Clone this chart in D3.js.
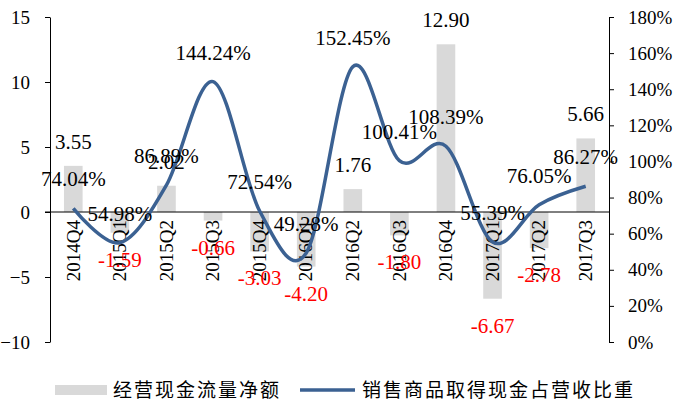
<!DOCTYPE html>
<html>
<head>
<meta charset="utf-8">
<script src="https://cdn.jsdelivr.net/npm/d3@7"></script>
<style>
  body { margin: 0; background: #fff; }
  .domain, .tick line { stroke: #000; }
</style>
</head>
<body>
<script>
// data
var categories = ["2014Q4", "2015Q1", "2015Q2", "2015Q3", "2015Q4", "2016Q1",
                  "2016Q2", "2016Q3", "2016Q4", "2017Q1", "2017Q2", "2017Q3"];
var cashFlow = [3.55, -1.59, 2.02, -0.66, -3.03, -4.20, 1.76, -1.80, 12.90, -6.67, -2.78, 5.66];
var salesRatio = [74.04, 54.98, 86.89, 144.24, 72.54, 49.28, 152.45, 100.41, 108.39, 55.39, 76.05, 86.27];
var leftTicks = [-10, -5, 0, 5, 10, 15];
var rightTicks = [0, 20, 40, 60, 80, 100, 120, 140, 160, 180];
var legendNames = ["经营现金流量净额", "销售商品取得现金占营收比重"];

var serif = "'Liberation Serif', 'Times New Roman', serif";

var W = 676, H = 403;
var margin = {top: 17, right: 67, bottom: 61, left: 50},
    width = W - margin.left - margin.right,
    height = H - margin.top - margin.bottom;

var svg = d3.select("body").append("svg")
    .attr("width", W)
    .attr("height", H);

var g = svg.append("g")
    .attr("transform", "translate(" + margin.left + "," + margin.top + ")");

// scales
var x = d3.scaleBand().domain(categories).range([0, width]).padding(0);
var y = d3.scaleLinear().domain([-10, 15]).range([height, 0]);
var y2 = d3.scaleLinear().domain([0, 180]).range([height, 0]);
var barW = x.bandwidth() * 0.4;

// bars
g.selectAll(".bar")
    .data(cashFlow)
    .enter().append("rect")
    .attr("class", "bar")
    .attr("x", function(d, i) { return x(categories[i]) + (x.bandwidth() - barW) / 2; })
    .attr("y", function(d) { return y(Math.max(0, d)); })
    .attr("width", barW)
    .attr("height", function(d) { return Math.abs(y(d) - y(0)); })
    .attr("fill", "#d9d9d9");

function styleTicks(s) {
    s.attr("font-family", null);
    s.selectAll("text")
        .style("font-family", serif)
        .style("font-size", "19px")
        .attr("fill", "#000");
}

// left axis
g.append("g")
    .call(d3.axisLeft(y).tickValues(leftTicks).tickSize(5).tickPadding(15).tickSizeOuter(0))
    .call(styleTicks);

// right axis
g.append("g")
    .attr("transform", "translate(" + width + ",0)")
    .call(d3.axisRight(y2).tickValues(rightTicks).tickSize(5).tickPadding(14).tickSizeOuter(0)
        .tickFormat(function(d) { return d + "%"; }))
    .call(styleTicks);

// zero line with category labels
var xAxis = g.append("g")
    .attr("transform", "translate(0," + y(0) + ")")
    .call(d3.axisBottom(x).tickSize(0).tickSizeOuter(0))
    .call(styleTicks);
xAxis.select(".domain").attr("d", "M-5,0H" + width);
xAxis.selectAll("text")
    .style("text-anchor", "end")
    .attr("transform", "rotate(-90)")
    .attr("x", -8)
    .attr("y", 0)
    .attr("dy", "0.33em");

// line
var line = d3.line()
    .x(function(d, i) { return x(categories[i]) + x.bandwidth() / 2; })
    .y(function(d) { return y2(d); })
    .curve(d3.curveCatmullRom.alpha(0));

g.append("path")
    .datum(salesRatio)
    .attr("fill", "none")
    .attr("stroke", "#3b6192")
    .attr("stroke-width", 3.5)
    .attr("d", line);

// bar labels
g.selectAll(".barlabel")
    .data(cashFlow)
    .enter().append("text")
    .attr("class", "barlabel")
    .attr("x", function(d, i) { return x(categories[i]) + x.bandwidth() / 2; })
    .attr("y", function(d) { return d >= 0 ? y(d) - 17 : y(d) + 34; })
    .attr("text-anchor", "middle")
    .style("font-family", serif)
    .style("font-size", "21px")
    .attr("fill", function(d) { return d >= 0 ? "#000" : "#ff0000"; })
    .text(function(d) { return d.toFixed(2); });

// line labels
g.selectAll(".linelabel")
    .data(salesRatio)
    .enter().append("text")
    .attr("class", "linelabel")
    .attr("x", function(d, i) { return x(categories[i]) + x.bandwidth() / 2; })
    .attr("y", function(d) { return y2(d) - 22; })
    .attr("text-anchor", "middle")
    .style("font-family", serif)
    .style("font-size", "21px")
    .attr("fill", "#000")
    .text(function(d) { return d.toFixed(2) + "%"; });

// legend
var lg = svg.append("g").attr("transform", "translate(0,390)");
lg.append("rect")
    .attr("x", 55).attr("y", -5).attr("width", 52).attr("height", 10)
    .attr("fill", "#d9d9d9");
lg.append("text")
    .attr("x", 113).attr("y", 7)
    .style("font-size", "19px")
    .attr("letter-spacing", "2px")
    .style("font-family", "'Noto Sans CJK SC', sans-serif")
    .text(legendNames[0]);
lg.append("line")
    .attr("x1", 300).attr("x2", 355).attr("y1", 0).attr("y2", 0)
    .attr("stroke", "#3b6192").attr("stroke-width", 3.5);
lg.append("text")
    .attr("x", 362).attr("y", 7)
    .style("font-size", "19px")
    .attr("letter-spacing", "2px")
    .style("font-family", "'Noto Sans CJK SC', sans-serif")
    .text(legendNames[1]);
</script>
</body>
</html>
